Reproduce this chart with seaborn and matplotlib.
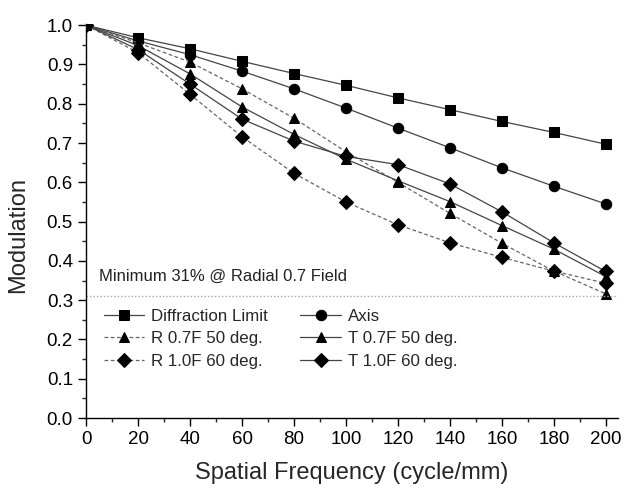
import numpy as np
import pandas as pd
import matplotlib
matplotlib.use("Agg")
import matplotlib.pyplot as plt
import seaborn as sns
from matplotlib.ticker import MultipleLocator

sns.set_theme(style="ticks")
plt.rcParams['font.family'] = ['Liberation Sans', 'DejaVu Sans']

freq = [0, 20, 40, 60, 80, 100, 120, 140, 160, 180, 200]
diffraction = [1.0, 0.968, 0.940, 0.908, 0.877, 0.847, 0.815, 0.785, 0.755, 0.727, 0.697]
axis_mtf = [1.0, 0.960, 0.925, 0.883, 0.838, 0.789, 0.738, 0.688, 0.637, 0.590, 0.545]
r07 = [1.0, 0.955, 0.906, 0.838, 0.763, 0.678, 0.600, 0.521, 0.445, 0.374, 0.316]
t07 = [1.0, 0.948, 0.876, 0.792, 0.722, 0.659, 0.604, 0.551, 0.490, 0.430, 0.360]
r10 = [1.0, 0.930, 0.824, 0.716, 0.623, 0.550, 0.492, 0.446, 0.409, 0.374, 0.343]
t10 = [1.0, 0.938, 0.850, 0.761, 0.705, 0.666, 0.645, 0.596, 0.525, 0.446, 0.373]

series = [
    ("Diffraction Limit", diffraction, "s", "-"),
    ("Axis", axis_mtf, "o", "-"),
    ("R 0.7F 50 deg.", r07, "^", "--"),
    ("T 0.7F 50 deg.", t07, "^", "-"),
    ("R 1.0F 60 deg.", r10, "D", "--"),
    ("T 1.0F 60 deg.", t10, "D", "-"),
]

fig = plt.figure(figsize=(6.24, 4.88), dpi=100)
ax = fig.add_axes([0.138, 0.1434, 0.852, 0.8074])

for name, vals, mk, ls in series:
    df = pd.DataFrame({"f": freq, "m": vals})
    sns.lineplot(data=df, x="f", y="m", ax=ax, label=name,
                 color="#444444" if ls == "-" else "#666666",
                 linewidth=0.9, linestyle=ls, marker=mk,
                 markersize=7.5 if mk != "D" else 7,
                 markerfacecolor="black", markeredgecolor="black")
for ln in ax.get_lines():
    if ln.get_linestyle() == "--":
        ln.set_dashes([3, 2])

ax.axhline(0.31, color="#aaaaaa", linestyle=(0, (1, 1.5)), linewidth=1)
ax.text(5, 0.35, "Minimum 31% @ Radial 0.7 Field", fontsize=12, color="#222222")

ax.set_xlim(0, 204.6)
ax.set_ylim(0, 1.003)
ax.xaxis.set_major_locator(MultipleLocator(20))
ax.xaxis.set_minor_locator(MultipleLocator(10))
ax.yaxis.set_major_locator(MultipleLocator(0.1))
ax.yaxis.set_minor_locator(MultipleLocator(0.05))
ax.yaxis.set_major_formatter(matplotlib.ticker.FormatStrFormatter("%.1f"))
ax.tick_params(which="major", direction="out", length=6, width=1, labelsize=13.5, colors="black")
ax.tick_params(which="minor", direction="out", length=3, width=1)
sns.despine(ax=ax)
for sp in ["left", "bottom"]:
    ax.spines[sp].set_color("black")
    ax.spines[sp].set_linewidth(1)

ax.set_xlabel("Spatial Frequency (cycle/mm)", fontsize=17, labelpad=10)
ax.set_ylabel("Modulation", fontsize=17)
ax.yaxis.set_label_coords(-0.107, 0.464)

# row-wise legend order: matplotlib fills columns first
handles, labels = ax.get_legend_handles_labels()
order = [0, 2, 4, 1, 3, 5]
ax.legend([handles[i] for i in order], [labels[i] for i in order],
          ncol=2, frameon=False, loc="upper left", bbox_to_anchor=(0.033, 0.277),
          borderaxespad=0, borderpad=0, fontsize=12.2, handlelength=2.4,
          columnspacing=1.9, labelspacing=0.44, handletextpad=0.42)

fig.savefig("out.png", dpi=100)
